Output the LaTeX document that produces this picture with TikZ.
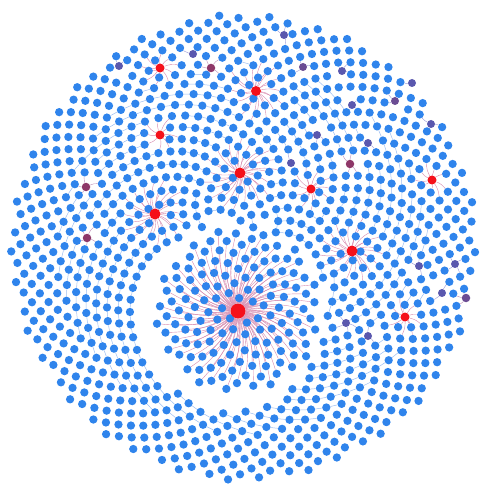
\documentclass[tikz,border=0pt]{standalone}
\usetikzlibrary{backgrounds}
\definecolor{blue1}{HTML}{2F84EC}
\definecolor{red1}{HTML}{F5101A}
\definecolor{mauve1}{HTML}{8E3768}
\definecolor{violet1}{HTML}{5A58AE}
\definecolor{violet2}{HTML}{6B4C93}
\definecolor{pink1}{HTML}{D68AAE}
\definecolor{pink2}{HTML}{BC8CB6}
\definecolor{lilac1}{HTML}{9A98D6}
\definecolor{sky1}{HTML}{9CBDF0}

\pgfdeclarelayer{edges}
\pgfdeclarelayer{top}
\pgfsetlayers{edges,main,top}

% name / x / y / reach / edge colour / fill / size
\newcommand\hublist{%
  h1/24.0/17.3/4.2/pink1/red1/11,%
  h2/15.5/21.4/4.0/pink1/red1/11,%
  h3/35.2/25.1/3.9/pink1/red1/11,%
  h4/25.6/9.1/3.5/pink1/red1/10,%
  h5/16.0/13.5/2.4/pink1/red1/9,%
  h6/16.0/6.8/2.4/pink1/red1/9,%
  h7/31.1/18.9/2.6/pink1/red1/9,%
  h8/43.2/18.0/2.3/pink1/red1/9,%
  h9/40.5/31.7/2.4/pink1/red1/9,%
  m1/8.6/18.7/1.7/pink2/mauve1/8.5,%
  m2/8.7/23.8/1.7/pink2/mauve1/8.5,%
  m3/21.1/6.8/1.7/pink2/mauve1/8.5,%
  m4/35.0/16.4/1.7/pink2/mauve1/8.5,%
  m5/46.6/29.8/1.6/pink2/violet2/8.5,%
  v1/11.9/6.6/1.5/lilac1/violet1/8,%
  v2/19.3/5.4/1.5/lilac1/violet1/8,%
  v3/28.4/3.5/1.5/lilac1/violet1/8,%
  v4/30.3/6.7/1.5/lilac1/violet2/8,%
  v5/34.2/7.1/1.5/lilac1/violet1/8,%
  v6/41.2/8.3/1.5/lilac1/violet1/8,%
  v7/39.5/10.1/1.5/lilac1/violet2/8,%
  v8/35.2/10.5/1.5/lilac1/violet1/8,%
  v9/43.1/12.4/1.5/lilac1/violet1/8,%
  v10/31.7/13.5/1.5/lilac1/violet1/8,%
  v11/36.8/14.3/1.5/lilac1/violet1/8,%
  v12/29.1/16.3/1.5/lilac1/violet1/8,%
  v13/41.9/26.6/1.5/lilac1/violet1/8,%
  v14/45.5/26.4/1.5/lilac1/violet1/8,%
  v15/44.2/29.3/1.5/lilac1/violet1/8,%
  v16/34.6/32.3/1.5/lilac1/violet1/8,%
  v17/36.8/33.6/1.5/lilac1/violet1/8}

\begin{document}
\begin{tikzpicture}[x=10pt, y=-10pt,
  dot/.style  = {circle, fill=blue1, inner sep=0pt, minimum size=8.3pt},
  hub/.style  = {circle, inner sep=0pt},
  link/.style = {line width=0.4pt},
  stub/.style = {draw=sky1, line width=0.5pt}
]
\useasboundingbox (0,0) rectangle (48,48.6);

% hubs, kept above everything
\begin{pgfonlayer}{top}
\node[hub, fill=red1, minimum size=15pt] (h0) at (23.8,31.1) {};
\foreach \hn/\hx/\hy/\hr/\hc/\hf/\hd in \hublist
  \node[hub, fill=\hf, minimum size=\hd pt] (\hn) at (\hx,\hy) {};
\end{pgfonlayer}

% cluster round the big hub
\foreach \k in {1,...,140}{
  \edef\tu{\fpeval{\k*0.38196601125}}
  \edef\an{\fpeval{360*(\tu-trunc(\tu))}}
  \edef\rr{\fpeval{8.2*sqrt((\k+1.5)/141.5)}}
  \edef\xx{\fpeval{round(23.8+\rr*cosd(\an),4)}}
  \edef\yy{\fpeval{round(31.1+\rr*sind(\an),4)}}
  \node[dot] (c\k) at (\xx,\yy) {};
  \expandafter\xdef\csname cx\k\endcsname{\xx}
  \expandafter\xdef\csname cy\k\endcsname{\yy}
}

% the big disc of nodes
\foreach \k in {1,...,1150}{
  \edef\tu{\fpeval{\k*0.38196601125}}
  \edef\an{\fpeval{360*(\tu-trunc(\tu))}}
  \edef\rr{\fpeval{23.3*sqrt(\k/1150)}}
  \edef\xx{\fpeval{round(24.4+\rr*cosd(\an),4)}}
  \edef\yy{\fpeval{round(24.7+\rr*sind(\an),4)}}
  \pgfmathsetmacro\dc{(\xx-23.1)*(\xx-23.1)+(\yy-31.7)*(\yy-31.7)}
  \ifdim\dc pt>84.64pt
    \gdef\hit{}\gdef\keep{1}
    % keep clear of the cluster
    \pgfmathsetmacro\dz{(\xx-23.8)*(\xx-23.8)+(\yy-31.1)*(\yy-31.1)}
    \ifdim\dz pt<104pt
      \foreach \j in {1,...,140}{
        \edef\mx{\csname cx\j\endcsname}\edef\my{\csname cy\j\endcsname}
        \pgfmathsetmacro\dd{(\xx-\mx)*(\xx-\mx)+(\yy-\my)*(\yy-\my)}
        \ifdim\dd pt<1.21pt \gdef\keep{0}\fi
      }
    \fi
    \foreach \hn/\hx/\hy/\hr/\hc/\hf/\hd in \hublist{
      \pgfmathsetmacro\dh{(\xx-\hx)*(\xx-\hx)+(\yy-\hy)*(\yy-\hy)}
      \pgfmathsetmacro\rq{\hr*\hr}
      \ifdim\dh pt<0.64pt \gdef\keep{0}\fi
      \ifx\hit\empty
        \ifdim\dh pt<\rq pt \global\let\hit\hn \global\let\hitcol\hc \fi
      \fi
    }
    \if1\keep
      \node[dot] (d\k) at (\xx,\yy) {};
      \expandafter\xdef\csname gx\k\endcsname{\xx}
      \expandafter\xdef\csname gy\k\endcsname{\yy}
      \ifx\hit\empty
        \gdef\best{}\gdef\bestd{2.56}
        \foreach \o in {13,21,34}{
          \pgfmathtruncatemacro\m{\k-\o}
          \ifcsname gx\m\endcsname
            \edef\mx{\csname gx\m\endcsname}\edef\my{\csname gy\m\endcsname}
            \pgfmathsetmacro\dd{(\xx-\mx)*(\xx-\mx)+(\yy-\my)*(\yy-\my)}
            \ifdim\dd pt<\bestd pt \xdef\best{\m}\xdef\bestd{\dd}\fi
          \fi
        }
        \expandafter\xdef\csname nb\k\endcsname{\best}
      \else
        \expandafter\xdef\csname hb\k\endcsname{\hit}
        \expandafter\xdef\csname hc\k\endcsname{\hitcol}
      \fi
    \fi
  \fi
}

% connectors, under the nodes
\begin{pgfonlayer}{edges}
\foreach \k in {1,...,140}
  \draw[link, draw=pink1] (h0) to[bend left=14] (c\k);
\foreach \k in {1,...,1150}{
  \ifcsname hb\k\endcsname
    \edef\hh{\csname hb\k\endcsname}\edef\cc{\csname hc\k\endcsname}
    \draw[link, draw=\cc] (\hh) to[bend left=14] (d\k);
  \fi
  \ifcsname nb\k\endcsname
    \edef\bb{\csname nb\k\endcsname}
    \ifx\bb\empty\else \draw[stub] (d\k) -- (d\bb); \fi
  \fi
}
\end{pgfonlayer}
\end{tikzpicture}
\end{document}
